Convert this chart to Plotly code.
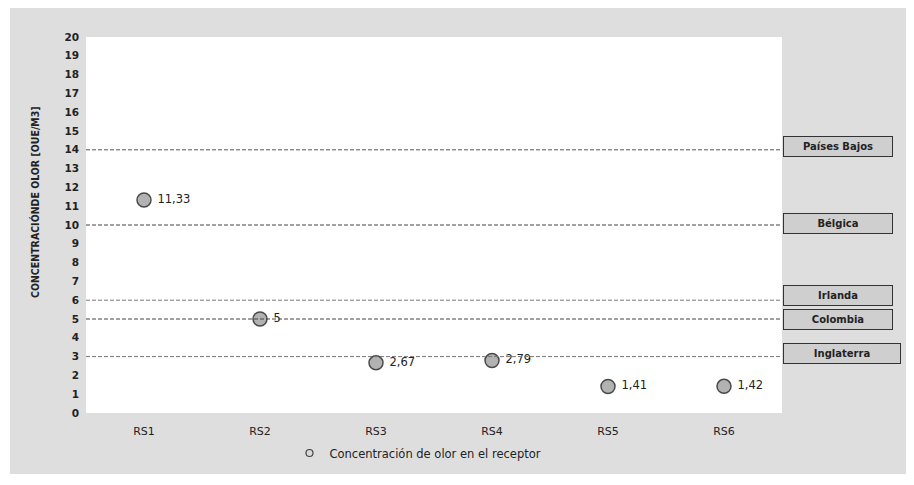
import plotly.graph_objects as go

# ---- data ----
categories = ["RS1", "RS2", "RS3", "RS4", "RS5", "RS6"]
concentration = [11.33, 5, 2.67, 2.79, 1.41, 1.42]
series_name = "Concentración de olor en el receptor"

limit_countries = ["Países Bajos", "Bélgica", "Irlanda", "Colombia", "Inglaterra"]
limit_values = [14, 10, 6, 5, 3]

y_tick_values = list(range(0, 21))

# ---- styling ----
OFF = 8  # page body margin
W, H = 914, 485
L, R, T, B = 86 - OFF, 132 + OFF, 37 - OFF, 72 + OFF
pw, ph = W - L - R, H - T - B
bg_gray = "#dedede"
box_gray = "#cfcfcf"
text_col = "#222222"
font_fam = "DejaVu Sans, Verdana, sans-serif"
label_shift = {"Países Bajos": 3, "Bélgica": 2, "Irlanda": 5, "Colombia": 0, "Inglaterra": 3}
label_width = {"Inglaterra": 114}
line_colors = {"Países Bajos": "#555555", "Bélgica": "#444444", "Irlanda": "#777777",
               "Colombia": "#444444", "Inglaterra": "#777777"}


def px_x(p):  # page pixel -> paper
    return (p - OFF - L) / pw


def px_y(p):
    return (H - B - (p - OFF)) / ph


def fmt(v):
    return "\u00a0" + f"{v:g}".replace(".", ",")


fig = go.Figure()

fig.add_trace(go.Scatter(
    x=categories, y=concentration, mode="markers+text",
    text=[fmt(v) for v in concentration], textposition="middle right",
    textfont=dict(family=font_fam, size=11.5, color=text_col),
    marker=dict(size=14, color="#b2b2b2", line=dict(color="#4a4a4a", width=1.5)),
    showlegend=False, cliponaxis=False, name=series_name,
))
fig.add_trace(go.Scatter(
    x=[None], y=[None], mode="markers", name=series_name,
    marker=dict(size=7, color="#d8d8d8", line=dict(color="#444444", width=1.2)),
    showlegend=True,
))

shapes = [
    dict(type="rect", xref="paper", yref="paper", layer="below",
         x0=px_x(10), x1=px_x(912), y0=px_y(474), y1=px_y(8),
         fillcolor=bg_gray, line=dict(width=0)),
    dict(type="rect", xref="paper", yref="paper", layer="below",
         x0=0, x1=1, y0=0, y1=1, fillcolor="white", line=dict(width=0)),
]
annotations = []
for name, val in zip(limit_countries, limit_values):
    shapes.append(dict(type="line", xref="paper", yref="y", x0=0, x1=1, y0=val, y1=val,
                       line=dict(color=line_colors[name], width=1, dash="4px,2px"),
                       layer="above"))
    wdt = label_width.get(name, 106)
    annotations.append(dict(
        xref="paper", yref="y", x=px_x(782 + (wdt + 6) / 2), y=val, yshift=label_shift[name],
        xanchor="center", yanchor="middle",
        text=name, showarrow=False, width=wdt, height=17,
        bgcolor=box_gray, bordercolor="#333333", borderwidth=1, borderpad=1,
        font=dict(family=font_fam, size=10, color=text_col, weight="bold"),
    ))

annotations.append(dict(
    xref="paper", yref="paper", x=px_x(35), y=px_y(202), textangle=-90,
    xanchor="center", yanchor="middle",
    text="CONCENTRACIÓNDE OLOR [OUE/M3]", showarrow=False,
    font=dict(family="DejaVu Sans Condensed, DejaVu Sans, sans-serif", size=10.5,
              color=text_col, weight="bold"),
))

fig.update_layout(
    width=W, height=H,
    margin=dict(l=L, r=R, t=T, b=B, pad=0),
    paper_bgcolor="white", plot_bgcolor="rgba(0,0,0,0)",
    shapes=shapes, annotations=annotations,
    showlegend=True,
    legend=dict(orientation="h", x=px_x(418), xanchor="center", y=px_y(453), yanchor="middle",
                bgcolor="rgba(0,0,0,0)", itemwidth=30,
                font=dict(family=font_fam, size=11.5, color=text_col)),
    xaxis=dict(type="category", range=[-0.5, 5.5], showgrid=False, zeroline=False,
               showline=False, ticks="", ticklabelstandoff=10,
               tickfont=dict(family=font_fam, size=11, color=text_col)),
    yaxis=dict(range=[0, 20], tickvals=y_tick_values, showgrid=False, zeroline=False,
               showline=False, ticks="", ticklabelstandoff=6,
               tickfont=dict(family=font_fam, size=10.5, color=text_col, weight="bold")),
)

fig.write_html("out.html")
